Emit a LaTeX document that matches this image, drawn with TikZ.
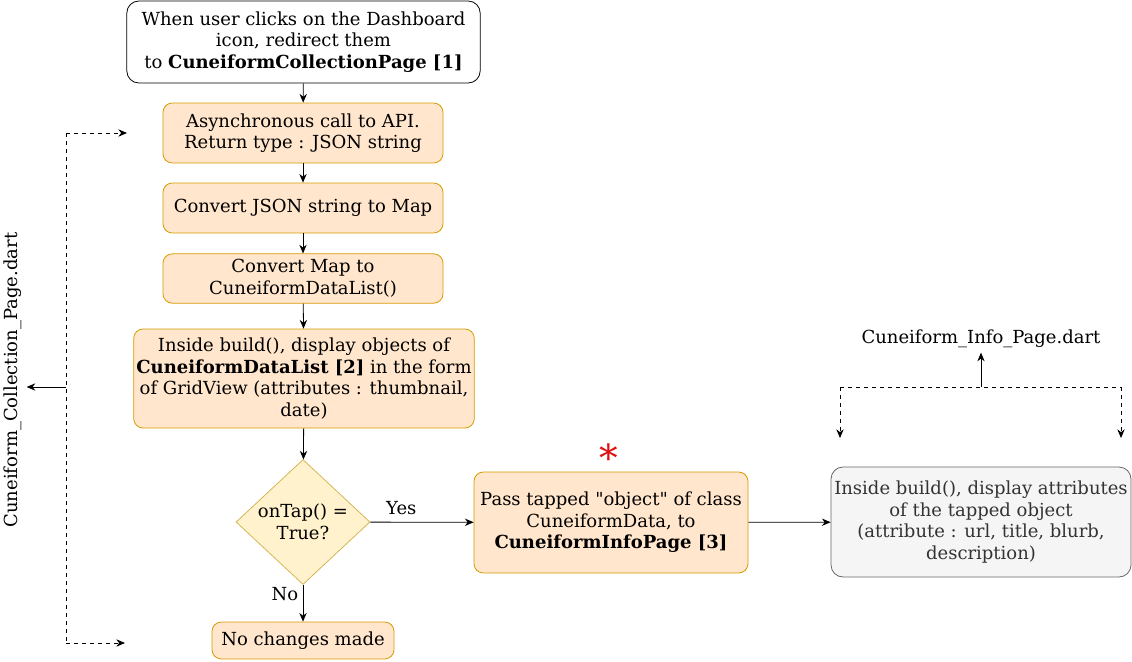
\documentclass[tikz,border=0pt]{standalone}
\usepackage{fontspec}
\setmainfont{DejaVu Serif}[Ligatures=TeXOff]
\usetikzlibrary{arrows.meta,shapes.geometric}
\definecolor{fc_orange}{RGB}{255, 230, 204}
\definecolor{dc_orange}{RGB}{215, 155, 0}
\definecolor{fc_yellow}{RGB}{255, 242, 204}
\definecolor{dc_yellow}{RGB}{214, 182, 86}
\definecolor{fc_grey}{RGB}{245, 245, 245}
\definecolor{dc_grey}{RGB}{102, 102, 102}
\definecolor{tc_grey}{RGB}{51, 51, 51}
\definecolor{star_red}{RGB}{224, 16, 16}
\tikzstyle{startbox}=[rectangle,rounded corners=9pt,fill=white,draw=black,
  line width=0.6pt,inner sep=2pt,align=center]
\tikzstyle{ob}=[rectangle,rounded corners=7pt,fill=fc_orange,draw=dc_orange,
  line width=0.6pt,inner sep=2pt,align=center]
\tikzstyle{yd}=[diamond,fill=fc_yellow,draw=dc_yellow,
  line width=0.6pt,inner sep=0pt]
\tikzstyle{gb}=[rectangle,rounded corners=9pt,fill=fc_grey,draw=dc_grey,
  line width=0.6pt,inner sep=2pt,align=center,text=tc_grey]
\tikzstyle{arr}=[-{Stealth[length=6.5pt,width=5.5pt]},line width=0.6pt]
\tikzstyle{darr}=[-{Stealth[length=6.5pt,width=5.5pt]},dashed,line width=0.6pt]
\tikzstyle{none}=[]

\begin{document}
\begin{tikzpicture}[x=0.75pt,y=-0.75pt,font=\fontsize{13.5}{16.2}\selectfont]
            \useasboundingbox (0, 0) rectangle (1132, 661);
            \node [style=startbox,minimum width=265pt,minimum height=61.5pt] (0) at (303.5, 42) {When user clicks on the Dashboard\\icon, redirect them\\to \textbf{CuneiformCollectionPage [1]}};
            \node [style=ob,minimum width=210pt,minimum height=45pt] (1) at (303, 133) {Asynchronous call to API.\\Return type : JSON string};
            \node [style=ob,minimum width=210pt,minimum height=37.5pt] (2) at (303, 208) {Convert JSON string to Map};
            \node [style=ob,minimum width=210pt,minimum height=37pt] (3) at (303, 278.5) {Convert Map to\\CuneiformDataList()};
            \node [style=ob,minimum width=255pt,minimum height=74.25pt] (4) at (304, 378.5) {Inside build(), display objects of\\\textbf{CuneiformDataList [2]} in the form\\of GridView (attributes : thumbnail,\\date)};
            \node [style=yd,minimum width=100.5pt,minimum height=93.75pt,label={[align=center]center:onTap() =\\True?}] (5) at (303, 522) {};
            \node [style=ob,minimum width=136.5pt,minimum height=27.75pt] (6) at (303, 640.5) {No changes made};
            \node [style=ob,minimum width=205.5pt,minimum height=75.75pt] (7) at (611, 522.5) {Pass tapped "object" of class\\CuneiformData, to\\\textbf{CuneiformInfoPage [3]}};
            \node [style=gb,minimum width=225pt,minimum height=82.5pt] (8) at (981, 522) {Inside build(), display attributes\\of the tapped object\\(attribute : url, title, blurb,\\description)};
            \node [style=none,text=star_red,font=\fontsize{28}{28}\selectfont] (9) at (609, 458) {*};
            \node [style=none] (10) at (981, 339) {Cuneiform\_Info\_Page.dart};
            \node [style=none,rotate=90] (11) at (13, 380) {Cuneiform\_Collection\_Page.dart};
            \coordinate (12) at (66, 133);
            \coordinate (13) at (127, 133);
            \coordinate (14) at (66, 643);
            \coordinate (15) at (125, 643);
            \coordinate (16) at (66, 387);
            \coordinate (17) at (840, 387);
            \coordinate (18) at (840, 438);
            \coordinate (19) at (1121, 387);
            \coordinate (20) at (1121, 438);
            \coordinate (21) at (981, 387);
            \draw [style=arr] (0) to (1);
            \draw [style=arr] (1) to (2);
            \draw [style=arr] (2) to (3);
            \draw [style=arr] (3) to (4);
            \draw [style=arr] (4) to (5);
            \draw [style=arr] (5) to node [left, pos=0.25] {No} (6);
            \draw [style=arr] (5) to node [above, pos=0.3, yshift=2pt] {Yes} (7);
            \draw [style=arr] (7) to (8);
            \draw [style=darr] (12) to (13);
            \draw [dashed,line width=0.6pt] (12) to (14);
            \draw [style=darr] (14) to (15);
            \draw [style=arr] (16) to (11.south |- 16);
            \draw [dashed,line width=0.6pt] (17) to (19);
            \draw [style=darr] (17) to (18);
            \draw [style=darr] (19) to (20);
            \draw [style=arr] (21) to (10);
    \end{tikzpicture}
\end{document}
